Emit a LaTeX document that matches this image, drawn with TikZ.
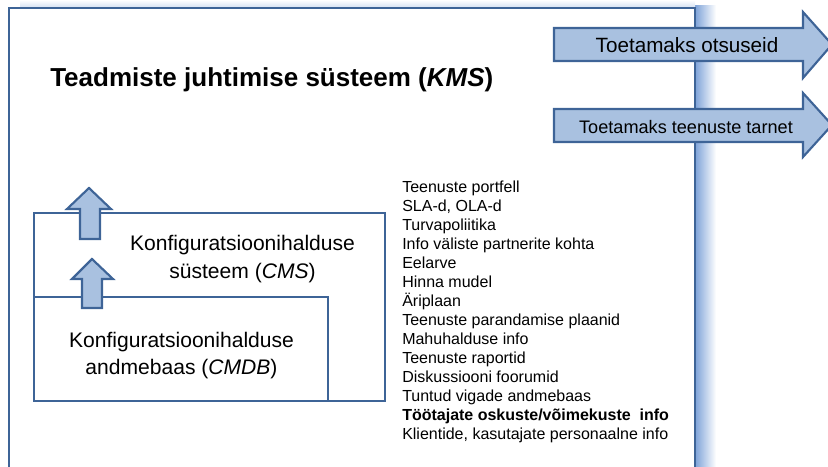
\documentclass[tikz,border=0pt]{standalone}
\usepackage{fontspec}
\setmainfont{Liberation Sans}
\definecolor{edge}{HTML}{3E6497}
\definecolor{arrowfill}{HTML}{A9C1E0}
\definecolor{glow}{HTML}{7DA2D8}
\begin{document}
\begin{tikzpicture}[x=0.75pt,y=-0.75pt,
  frame/.style={draw=edge,line width=2pt},
  panel/.style={draw=edge,line width=1.6pt},
  blockarrow/.style={draw=edge,line width=1.6pt,fill=arrowfill,line join=miter},
  txt/.style={inner sep=0pt,text=black},
  listtxt/.style={txt,anchor=base west,font=\fontsize{12}{14.25}\selectfont},
]
\useasboundingbox (0,0) rectangle (828,467);
\clip (0,0) rectangle (828,467);

% soft glow along the right and top edges of the outer frame
\shade[left color=glow,right color=white] (695,6) rectangle (716,467);
\shade[top color=white,bottom color=glow!35] (20,0) rectangle (695,8);

% outer frame of the knowledge management system
\draw[frame] (9,475) -- (9,8) -- (695,8) -- (695,475);

% nested system boxes
\draw[panel] (34,213) rectangle (385,401);
\draw[panel] (34,297) rectangle (328,401);

% upward block arrows
\draw[blockarrow] (80,239) -- (80,209) -- (67,209) -- (89,188) -- (111,209)
  -- (100,209) -- (100,239) -- cycle;
\draw[blockarrow] (82,308) -- (82,279) -- (72,279) -- (92,259) -- (113,279)
  -- (102,279) -- (102,308) -- cycle;

% outgoing block arrows
\draw[blockarrow] (554,28) -- (803,28) -- (803,12) -- (832,44.5) -- (803,78)
  -- (803,61) -- (554,61) -- cycle;
\draw[blockarrow] (554,109) -- (803,109) -- (803,93) -- (832,125) -- (803,157)
  -- (803,142) -- (554,142) -- cycle;

% texts
\node[txt,anchor=base west,font=\fontsize{19.5}{23}\selectfont\bfseries] (title)
  at (50,87) {Teadmiste juhtimise süsteem (\textit{KMS})};

\node[txt,anchor=base,font=\fontsize{15.5}{18}\selectfont] (decide)
  at (687,53) {Toetamaks otsuseid};
\node[txt,anchor=base,font=\fontsize{13.6}{16}\selectfont] (deliver)
  at (686,133) {Toetamaks teenuste tarnet};

\node[txt,anchor=base,font=\fontsize{15.8}{21}\selectfont] (cmsA)
  at (242.5,250) {Konfiguratsioonihalduse};
\node[txt,anchor=base,font=\fontsize{15.8}{21}\selectfont] (cmsB)
  at (242.5,278) {süsteem (\textit{CMS})};
\node[txt,anchor=base,font=\fontsize{15.8}{21}\selectfont] (cmdbA)
  at (181.5,347) {Konfiguratsioonihalduse};
\node[txt,anchor=base,font=\fontsize{15.8}{21}\selectfont] (cmdbB)
  at (181.5,374) {andmebaas (\textit{CMDB})};

\foreach \entry [count=\i from 0] in {
  Teenuste portfell,
  {SLA-d, OLA-d},
  Turvapoliitika,
  Info väliste partnerite kohta,
  Eelarve,
  Hinna mudel,
  Äriplaan,
  Teenuste parandamise plaanid,
  Mahuhalduse info,
  Teenuste raportid,
  Diskussiooni foorumid,
  Tuntud vigade andmebaas,
  {\textbf{Töötajate oskuste/võimekuste\ \ info}},
  {Klientide, kasutajate personaalne info}}
  \node[listtxt] (list\i) at (402,192+19*\i) {\entry};
\end{tikzpicture}
\end{document}
